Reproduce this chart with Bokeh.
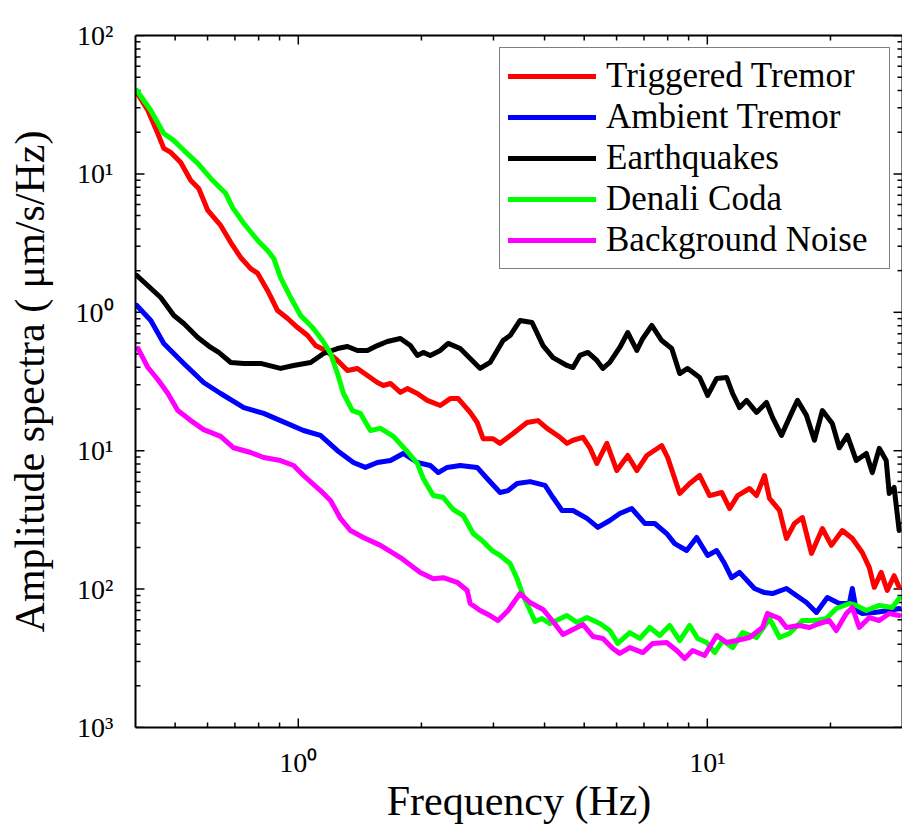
import math
from bokeh.plotting import figure
from bokeh.models import Range1d, LogAxis, FixedTicker, CustomJSTickFormatter, Legend, LegendItem
from bokeh.embed import file_html
from bokeh.resources import INLINE

# ---------------- data ----------------
series_names = ["Triggered Tremor", "Ambient Tremor", "Earthquakes", "Denali Coda", "Background Noise"]
series_colors = ["#ff0000", "#0000ff", "#000000", "#00ff00", "#ff00ff"]

red_f = [0.403, 0.429, 0.4535, 0.469, 0.488, 0.516, 0.546, 0.571, 0.601, 0.646, 0.684, 0.723, 0.765, 0.796,
         0.841, 0.890, 0.942, 0.996, 1.054, 1.102, 1.166, 1.247, 1.319, 1.395, 1.476, 1.561, 1.614, 1.680,
         1.777, 1.847, 1.954, 2.067, 2.224, 2.352, 2.460, 2.632, 2.737, 2.831, 2.994, 3.114, 3.351, 3.625,
         3.856, 4.056, 4.364, 4.538, 4.694, 4.965, 5.163, 5.370, 5.680, 6.008, 6.390, 6.723, 7.112, 7.736,
         8.000, 8.559, 9.053, 9.577, 10.13, 10.84, 11.34, 11.86, 12.68, 13.19, 13.80, 14.19, 15.01, 15.61,
         16.33, 17.08, 17.97, 19.11, 20.10, 21.38, 22.62, 23.92, 24.89, 25.59, 26.61, 27.53, 28.62, 29.44]
red_a = [38.7, 28.7, 19.6, 15.3, 14.3, 12.1, 8.96, 7.85, 5.44, 4.24, 3.19, 2.49, 2.07, 1.91, 1.44, 1.03,
         0.902, 0.776, 0.679, 0.575, 0.530, 0.449, 0.380, 0.393, 0.349, 0.311, 0.296, 0.306, 0.264, 0.281,
         0.259, 0.231, 0.212, 0.238, 0.238, 0.189, 0.160, 0.122, 0.122, 0.113, 0.133, 0.160, 0.165, 0.145,
         0.125, 0.113, 0.119, 0.125, 0.105, 0.0809, 0.113, 0.0719, 0.0923, 0.0719, 0.0923, 0.109, 0.0893,
         0.0491, 0.0579, 0.0662, 0.0474, 0.0499, 0.0382, 0.0474, 0.0533, 0.0474, 0.0662, 0.0452, 0.0370,
         0.0232, 0.0298, 0.0329, 0.0181, 0.0274, 0.0207, 0.0265, 0.0232, 0.0184, 0.0143, 0.0103, 0.0132,
         0.00977, 0.0125, 0.0103]

blue_f = [0.403, 0.436, 0.469, 0.525, 0.587, 0.646, 0.736, 0.823, 0.905, 1.030, 1.133, 1.247, 1.364, 1.459,
          1.561, 1.680, 1.806, 1.954, 2.102, 2.199, 2.312, 2.488, 2.737, 2.895, 3.114, 3.258, 3.427, 3.686,
          4.011, 4.195, 4.413, 4.694, 5.078, 5.400, 5.775, 6.109, 6.536, 7.033, 7.439, 7.955, 8.322, 8.902,
          9.417, 10.02, 10.54, 11.02, 11.46, 11.99, 13.04, 13.80, 14.43, 15.61, 16.51, 17.47, 18.48, 19.65,
          21.02, 22.24, 22.62, 23.13, 23.92, 25.59, 27.84, 29.44]
blue_a = [1.12, 0.873, 0.596, 0.427, 0.311, 0.259, 0.205, 0.186, 0.165, 0.140, 0.129, 0.100, 0.0822, 0.0757,
          0.0822, 0.0849, 0.0955, 0.0822, 0.0782, 0.0695, 0.0757, 0.0782, 0.0757, 0.0630, 0.0499, 0.0515,
          0.0579, 0.0598, 0.0561, 0.0459, 0.0370, 0.0370, 0.0324, 0.0279, 0.0313, 0.0352, 0.0382, 0.0298,
          0.0298, 0.0252, 0.0213, 0.0190, 0.0236, 0.0175, 0.0190, 0.0153, 0.0121, 0.0132, 0.0101, 0.00944,
          0.00929, 0.0101, 0.00899, 0.00800, 0.00678, 0.00869, 0.00787, 0.00787, 0.0101, 0.00700, 0.00667,
          0.00678, 0.00700, 0.00724]

black_f = [0.403, 0.461, 0.4965, 0.525, 0.568, 0.611, 0.639, 0.684, 0.736, 0.809, 0.905, 0.974, 1.072, 1.153,
           1.247, 1.319, 1.395, 1.476, 1.561, 1.651, 1.777, 1.879, 1.954, 2.021, 2.102, 2.224, 2.325, 2.488,
           2.632, 2.784, 2.944, 3.167, 3.295, 3.485, 3.728, 3.966, 4.195, 4.538, 4.694, 4.882, 5.105, 5.370,
           5.554, 5.775, 6.109, 6.390, 6.723, 6.954, 7.314, 7.736, 8.183, 8.559, 8.952, 9.577, 10.02, 10.54,
           11.15, 11.53, 11.99, 12.47, 13.19, 13.95, 14.43, 15.18, 16.05, 16.61, 17.47, 18.27, 19.11, 20.21,
           21.02, 21.99, 23.13, 24.47, 25.31, 26.32, 27.37, 27.84, 28.62, 29.44]
black_a = [1.845, 1.279, 0.948, 0.830, 0.658, 0.557, 0.513, 0.434, 0.427, 0.427, 0.393, 0.413, 0.434, 0.504,
           0.547, 0.566, 0.530, 0.530, 0.575, 0.615, 0.647, 0.575, 0.488, 0.513, 0.488, 0.530, 0.596, 0.547,
           0.463, 0.393, 0.434, 0.625, 0.679, 0.873, 0.844, 0.575, 0.471, 0.413, 0.399, 0.488, 0.513, 0.449,
           0.393, 0.434, 0.557, 0.714, 0.530, 0.647, 0.803, 0.625, 0.547, 0.361, 0.393, 0.338, 0.251, 0.333,
           0.338, 0.259, 0.205, 0.231, 0.189, 0.223, 0.174, 0.129, 0.186, 0.231, 0.180, 0.119, 0.195, 0.157,
           0.105, 0.129, 0.0849, 0.0955, 0.0695, 0.104, 0.0849, 0.0491, 0.0542, 0.0265]

green_f = [0.403, 0.436, 0.469, 0.4965, 0.525, 0.568, 0.611, 0.665, 0.691, 0.736, 0.796, 0.841, 0.871, 0.905,
           0.958, 1.013, 1.084, 1.146, 1.199, 1.247, 1.290, 1.356, 1.419, 1.501, 1.588, 1.708, 1.847, 1.954,
           2.021, 2.138, 2.262, 2.392, 2.530, 2.677, 2.815, 2.978, 3.114, 3.295, 3.427, 3.544, 3.686, 3.791,
           3.944, 4.125, 4.538, 4.800, 5.078, 5.461, 5.775, 6.041, 6.463, 6.837, 7.233, 7.650, 8.091, 8.559,
           9.053, 9.470, 9.961, 10.42, 10.90, 11.53, 12.19, 13.19, 14.19, 15.01, 15.87, 17.08, 18.48, 19.54,
           20.67, 22.24, 23.13, 24.47, 26.32, 28.31, 29.44]
green_a = [40.1, 28.7, 19.6, 17.4, 14.8, 11.9, 9.27, 7.21, 5.71, 4.38, 3.30, 2.80, 2.45, 1.78, 1.279, 0.948,
           0.776, 0.625, 0.504, 0.361, 0.259, 0.195, 0.186, 0.140, 0.145, 0.127, 0.0987, 0.0809, 0.0630,
           0.0474, 0.0459, 0.0376, 0.0340, 0.0252, 0.0224, 0.0190, 0.0175, 0.0153, 0.0119, 0.00899, 0.00700,
           0.00583, 0.00613, 0.00564, 0.00644, 0.00574, 0.00623, 0.00564, 0.00502, 0.00405, 0.00485, 0.00440,
           0.00528, 0.00462, 0.00546, 0.00425, 0.00546, 0.00440, 0.00411, 0.00348, 0.00425, 0.00378, 0.00485,
           0.00447, 0.00613, 0.00447, 0.00478, 0.00593, 0.00593, 0.00613, 0.00724, 0.00787, 0.00762, 0.00700,
           0.00762, 0.00736, 0.00855]

mag_f = [0.406, 0.429, 0.4535, 0.480, 0.5076, 0.546, 0.587, 0.646, 0.695, 0.765, 0.823, 0.905, 0.974, 1.030,
         1.133, 1.199, 1.268, 1.341, 1.443, 1.588, 1.777, 1.987, 2.138, 2.262, 2.446, 2.588, 2.632, 2.784,
         2.944, 3.079, 3.258, 3.485, 3.686, 3.966, 4.195, 4.438, 4.694, 4.965, 5.251, 5.554, 5.874, 6.109,
         6.463, 6.954, 7.356, 7.955, 8.416, 8.802, 9.207, 9.849, 10.54, 11.15, 11.79, 12.68, 13.64, 14.03,
         15.01, 15.61, 16.80, 17.77, 18.79, 19.87, 20.67, 21.87, 22.62, 23.52, 24.89, 26.32, 27.84, 29.44]
mag_a = [0.547, 0.399, 0.327, 0.259, 0.195, 0.165, 0.142, 0.127, 0.105, 0.0970, 0.0893, 0.0849, 0.0782,
         0.0662, 0.0515, 0.0437, 0.0324, 0.0265, 0.0236, 0.0207, 0.0169, 0.0132, 0.0119, 0.0121, 0.0112,
         0.00977, 0.00787, 0.00700, 0.00644, 0.00593, 0.00700, 0.00929, 0.00800, 0.00713, 0.00583, 0.00470,
         0.00511, 0.00555, 0.00455, 0.00440, 0.00372, 0.00343, 0.00378, 0.00348, 0.00405, 0.00411, 0.00360,
         0.00315, 0.00360, 0.00331, 0.00462, 0.00411, 0.00425, 0.00447, 0.00528, 0.00667, 0.00613, 0.00528,
         0.00546, 0.00528, 0.00564, 0.00593, 0.00502, 0.00667, 0.00736, 0.00528, 0.00623, 0.00593, 0.00667,
         0.00644]

x_major = [1, 10]
y_major = [1e-3, 1e-2, 1e-1, 1, 10, 100]
x_label = "Frequency (Hz)"
y_label = "Amplitude spectra ( μm/s/Hz)"

# ---------------- figure ----------------
FONT = "Liberation Serif"
X0, X1 = 0.4, 30
Y0, Y1 = 1e-3, 1e2
W, H = 902, 829
ML, MT, MB = 135, 35, 102

p = figure(width=W, height=H, x_axis_type="log", y_axis_type="log",
           x_range=Range1d(X0, X1), y_range=Range1d(Y0, Y1),
           output_backend="svg", toolbar_location=None,
           min_border_left=ML, min_border_right=0, min_border_top=MT, min_border_bottom=MB)
p.grid.visible = False
p.outline_line_color = None   # the box is drawn by the four axis lines

x_minor = [m * 10 ** e for e in (-1, 0, 1) for m in range(2, 10) if X0 < m * 10 ** e < X1]
y_minor = [m * 10.0 ** e for e in range(-3, 2) for m in range(2, 10)]

label_code = """
const s = {'0':'\u2070','1':'\u00b9','2':'\u00b2','3':'\u00b3'};
const e = Math.abs(Math.round(Math.log10(tick)));
return '10' + s[String(e)];
"""

def style_axis(ax, major, labels=True):
    ax.ticker = FixedTicker(ticks=major)
    ax.major_tick_in = 0
    ax.major_tick_out = 0
    ax.minor_tick_in = 0
    ax.minor_tick_out = 0
    ax.axis_line_width = 2
    if labels:
        ax.formatter = CustomJSTickFormatter(code=label_code)
        ax.major_label_text_font = FONT
        ax.major_label_text_font_size = "28px"
        ax.major_label_text_color = "black"
        ax.axis_label_text_font = FONT
        ax.axis_label_text_font_size = "42px"
        ax.axis_label_text_font_style = "normal"
        ax.axis_label_text_color = "black"
    else:
        ax.formatter = CustomJSTickFormatter(code="return '';")
        ax.major_label_standoff = 0

xa = p.xaxis[0]
ya = p.yaxis[0]
style_axis(xa, x_major)
style_axis(ya, y_major)
xa.axis_label = x_label
ya.axis_label = y_label
xa.major_label_standoff = 19
xa.axis_label_standoff = -3
ya.major_label_standoff = 22
ya.axis_label_standoff = 20

top = LogAxis()
style_axis(top, x_major, labels=False)
p.add_layout(top, "above")
right = LogAxis()
style_axis(right, y_major, labels=False)
p.add_layout(right, "right")

# ---- inward tick marks on all four sides (lengths given in screen pixels) ----
frame_w = W - ML
frame_h = H - MT - MB
px_per_dec_x = frame_w / math.log10(X1 / X0)
px_per_dec_y = frame_h / math.log10(Y1 / Y0)

def xticks(vals, length):
    k = 10 ** (length / px_per_dec_y)
    xs = vals + vals
    y0 = [Y0] * len(vals) + [Y1] * len(vals)
    y1 = [Y0 * k] * len(vals) + [Y1 / k] * len(vals)
    return xs, y0, xs, y1

def yticks(vals, length):
    k = 10 ** (length / px_per_dec_x)
    ys = vals + vals
    x0 = [X0] * len(vals) + [X1] * len(vals)
    x1 = [X0 * k] * len(vals) + [X1 / k] * len(vals)
    return x0, ys, x1, ys

for (vals, ln) in [(x_major, 9), (x_minor, 5)]:
    a0, b0, a1, b1 = xticks(vals, ln)
    p.segment(x0=a0, y0=b0, x1=a1, y1=b1, line_color="black", line_width=1.5)
for (vals, ln) in [(y_major, 9), (y_minor, 5)]:
    a0, b0, a1, b1 = yticks(vals, ln)
    p.segment(x0=a0, y0=b0, x1=a1, y1=b1, line_color="black", line_width=1.5)

renderers = []
for f, a, c in [(red_f, red_a, series_colors[0]), (blue_f, blue_a, series_colors[1]),
                (black_f, black_a, series_colors[2]), (green_f, green_a, series_colors[3]),
                (mag_f, mag_a, series_colors[4])]:
    r = p.line(f, a, line_color=c, line_width=5, line_join="round", line_cap="round")
    renderers.append(r)

legend = Legend(items=[LegendItem(label=n, renderers=[r]) for n, r in zip(series_names, renderers)],
                location="top_right", margin=12, padding=8,
                glyph_width=88, glyph_height=40, label_height=40, label_width=275, spacing=1,
                label_standoff=10, label_text_font=FONT, label_text_font_size="35px",
                label_text_color="black", border_line_color="black", border_line_width=1.5,
                background_fill_alpha=1.0)
p.add_layout(legend)

open("out.html", "w").write(file_html(p, INLINE))
